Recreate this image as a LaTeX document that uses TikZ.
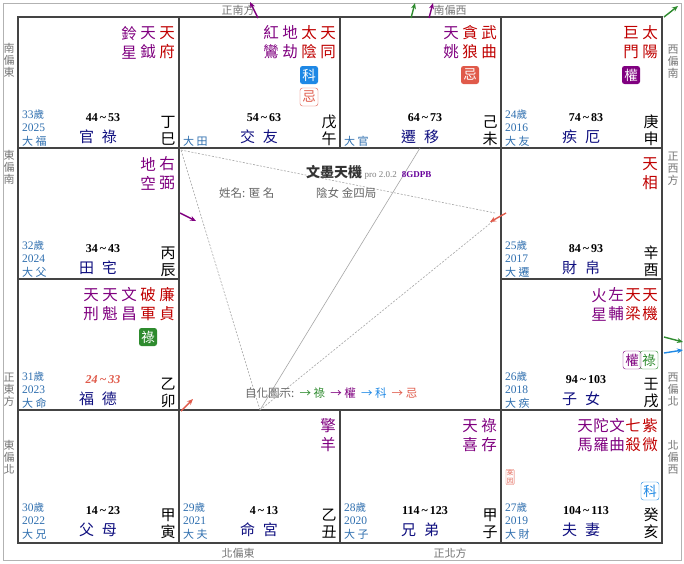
\documentclass[tikz,border=0pt]{standalone}
\usepackage{fontspec}
\setmainfont{Liberation Serif}
\newfontfamily\cjk{Noto Sans CJK TC}
\usetikzlibrary{arrows.meta}
\definecolor{mred}{HTML}{C00000}
\definecolor{mpur}{HTML}{800080}
\definecolor{agec}{HTML}{2F6FAF}
\definecolor{navy}{HTML}{101080}
\definecolor{gridc}{HTML}{444444}
\definecolor{sideg}{HTML}{777777}
\definecolor{bgreen}{HTML}{2E8B2E}
\definecolor{bblue}{HTML}{1E88E5}
\definecolor{bred}{HTML}{E05A4A}
\tikzset{
  stcol/.style={inner sep=0,align=center,font=\cjk\fontsize{15.5}{19}\selectfont},
  agetx/.style={inner sep=0,anchor=west,text=agec,font=\fontsize{11.5}{12}\selectfont},
  rng/.style={inner sep=0,font=\bfseries\fontsize{12}{13}\selectfont},
  pal/.style={inner sep=0,text=navy,font=\cjk\fontsize{15}{16}\selectfont},
  gz/.style={inner sep=0,font=\cjk\fontsize{15}{16}\selectfont},
  badge/.style={rounded corners=2.5pt,minimum size=18pt,inner sep=0,text=white,font=\cjk\fontsize{13.5}{14}\selectfont},
  obadge/.style={draw,rounded corners=2.5pt,minimum size=18pt,inner sep=0,font=\cjk\fontsize{13.5}{14}\selectfont},
  side/.style={inner sep=0,text=sideg,align=center,font=\cjk\fontsize{11}{12}\selectfont},
  arr/.style={-{Stealth[length=6pt,width=5pt]},line width=1.4pt},
  cline/.style={draw=gray!70,line width=0.6pt},
  dl/.style={cline,dashed,dash pattern=on 2pt off 1.5pt},
}
\newcommand\stc[3]{\node[stcol,text=#3] at (#1,25.5) {#2};}
\newcommand\bottom[7]{%
  \node[agetx] at (4,98) {#1};
  \node[agetx] at (4,111) {#2};
  \node[agetx,font=\cjk\fontsize{11}{12}\selectfont] at (4,124) {#3};
  \node[rng] at (85,101) {#4};
  \node[pal] at (80,120) {#5};
  \node[gz] at (150,105) {#6};
  \node[gz] at (150,122) {#7};}
\newcommand\sui{{\cjk\fontsize{10.5}{11}\selectfont 歲}}
\newcommand\tl{\,\textasciitilde\,}
\newcommand\pg{\hspace{8pt}}
\begin{document}
\begin{tikzpicture}[x=1pt,y=-1pt]
\useasboundingbox (0,0) rectangle (684,563);
\fill[white] (0,0) rectangle (684,563);
\draw[gray!60,line width=1pt] (3,3) rectangle (681,560);
% grid
\draw[gridc,line width=1.8pt] (18,17) rectangle (662,543);
\foreach \x in {179,340,501} {\draw[gridc,line width=1.8pt] (\x,17) -- (\x,148); \draw[gridc,line width=1.8pt] (\x,410) -- (\x,543);}
\foreach \y in {148,410} {\draw[gridc,line width=1.8pt] (18,\y) -- (662,\y);}
\draw[gridc,line width=1.8pt] (179,148) -- (179,410) (501,148) -- (501,410);
\draw[gridc,line width=1.8pt] (18,279) -- (179,279) (501,279) -- (662,279);
% center lines
\coordinate (A) at (260,410);
\coordinate (TL) at (181,150);
\coordinate (T) at (420,148);
\coordinate (R1) at (495,213);
\coordinate (R2) at (492,222);
\draw[dl] (A) -- (TL);
\draw[cline] (A) -- (T);
\draw[dl] (A) -- (R2);
\draw[dl] (TL) -- (R1);
% side labels
\node[side] (s1) at (238,10) {正南方};
\node[side] (s2) at (450,10) {南偏西};
\node[side] (s3) at (238,553) {北偏東};
\node[side] (s4) at (450,553) {正北方};
\node[side] (s5) at (9,60) {南\\偏\\東};
\node[side] (s6) at (9,167) {東\\偏\\南};
\node[side] (s7) at (9,390) {正\\東\\方};
\node[side] (s8) at (9,457) {東\\偏\\北};
\node[side] (s9) at (673,62) {西\\偏\\南};
\node[side] (s10) at (673,169) {正\\西\\方};
\node[side] (s11) at (673,390) {西\\偏\\北};
\node[side] (s12) at (673,457) {北\\偏\\西};
% cells
\begin{scope}[shift={(18,17)}]
\stc{149}{天\\府}{mred}\stc{130}{天\\鉞}{mpur}\stc{111}{鈴\\星}{mpur}
\bottom{33\sui}{2025}{大 福}{44\tl53}{官\pg 祿}{丁}{巳}
\end{scope}
\begin{scope}[shift={(179,17)}]
\stc{149}{天\\同}{mred}\stc{130}{太\\陰}{mred}\stc{111}{地\\劫}{mpur}\stc{92}{紅\\鸞}{mpur}
\node[badge,fill=bblue] at (130,58) {科};
\node[obadge,draw=bred,text=bred] at (130,80) {忌};
\bottom{}{}{大 田}{54\tl63}{交\pg 友}{戊}{午}
\end{scope}
\begin{scope}[shift={(340,17)}]
\stc{149}{武\\曲}{mred}\stc{130}{貪\\狼}{mred}\stc{111}{天\\姚}{mpur}
\node[badge,fill=bred] at (130,58) {忌};
\bottom{}{}{大 官}{64\tl73}{遷\pg 移}{己}{未}
\end{scope}
\begin{scope}[shift={(501,17)}]
\stc{149}{太\\陽}{mred}\stc{130}{巨\\門}{mred}
\node[badge,fill=mpur] at (130,58) {權};
\bottom{24\sui}{2016}{大 友}{74\tl83}{疾\pg 厄}{庚}{申}
\end{scope}
\begin{scope}[shift={(18,148)}]
\stc{149}{右\\弼}{mpur}\stc{130}{地\\空}{mpur}
\bottom{32\sui}{2024}{大 父}{34\tl43}{田\pg 宅}{丙}{辰}
\end{scope}
\begin{scope}[shift={(501,148)}]
\stc{149}{天\\相}{mred}
\bottom{25\sui}{2017}{大 遷}{84\tl93}{財\pg 帛}{辛}{酉}
\end{scope}
\begin{scope}[shift={(18,279)}]
\stc{149}{廉\\貞}{mred}\stc{130}{破\\軍}{mred}\stc{111}{文\\昌}{mpur}\stc{92}{天\\魁}{mpur}\stc{73}{天\\刑}{mpur}
\node[badge,fill=bgreen] at (130,58) {祿};
\bottom{31\sui}{2023}{大 命}{\textcolor{bred}{\itshape 24\tl33}}{福\pg 德}{乙}{卯}
\end{scope}
\begin{scope}[shift={(501,279)}]
\stc{149}{天\\機}{mred}\stc{132}{天\\梁}{mred}\stc{115}{左\\輔}{mpur}\stc{98}{火\\星}{mpur}
\node[obadge,draw=mpur,text=mpur] at (131,81) {權};
\node[obadge,draw=bgreen,text=bgreen] at (148,81) {祿};
\bottom{26\sui}{2018}{大 疾}{94\tl103}{子\pg 女}{壬}{戌}
\end{scope}
\begin{scope}[shift={(18,410)}]
\bottom{30\sui}{2022}{大 兄}{14\tl23}{父\pg 母}{甲}{寅}
\end{scope}
\begin{scope}[shift={(179,410)}]
\stc{149}{擎\\羊}{mpur}
\bottom{29\sui}{2021}{大 夫}{4\tl13}{命\pg 宮}{乙}{丑}
\end{scope}
\begin{scope}[shift={(340,410)}]
\stc{149}{祿\\存}{mpur}\stc{130}{天\\喜}{mpur}
\bottom{28\sui}{2020}{大 子}{114\tl123}{兄\pg 弟}{甲}{子}
\end{scope}
\begin{scope}[shift={(501,410)}]
\stc{149}{紫\\微}{mred}\stc{132}{七\\殺}{mred}\stc{116}{文\\曲}{mpur}\stc{100}{陀\\羅}{mpur}\stc{84}{天\\馬}{mpur}
\node[obadge,draw=bblue,text=bblue] at (149,81) {科};
\node[draw=bred,text=bred,rounded corners=1pt,inner sep=0.8pt,align=center,font=\cjk\fontsize{6.5}{7.5}\selectfont] at (9,67) {來\\因};
\bottom{27\sui}{2019}{大 財}{104\tl113}{夫\pg 妻}{癸}{亥}
\end{scope}
% center text
\node[inner sep=0,anchor=west] (title) at (306,172) {{\cjk\bfseries\fontsize{14}{15}\selectfont\color{black!80} 文墨天機}\ {\color{gray}\fontsize{9}{10}\selectfont pro 2.0.2}\ \ {\color{mpur!80!blue}\bfseries\fontsize{9}{10}\selectfont 8GDPB}};
\node[inner sep=0,anchor=west,text=gray!80!black,font=\cjk\fontsize{11.5}{12}\selectfont] (name) at (219,193) {姓名: 匿 名};
\node[inner sep=0,anchor=west,text=gray!80!black,font=\cjk\fontsize{11.5}{12}\selectfont] (ju) at (316,193) {陰女 金四局};
\node[inner sep=0,anchor=west,font=\cjk\fontsize{11.5}{12}\selectfont] (leg) at (245,393) {\textcolor{gray!80!black}{自化圖示:}\ \ \textcolor{bgreen}{→ 祿}\ \ \textcolor{mpur}{→ 權}\ \ \textcolor{bblue}{→ 科}\ \ \textcolor{bred}{→ 忌}};
% arrows
\coordinate (a1s) at (258,18); \coordinate (a1e) at (250,2);
\draw[arr,mpur] (a1s) -- (a1e);
\coordinate (a2s) at (411,18); \coordinate (a2e) at (415,3);
\draw[arr,bgreen] (a2s) -- (a2e);
\coordinate (a3s) at (429,18); \coordinate (a3e) at (433,3);
\draw[arr,mpur] (a3s) -- (a3e);
\coordinate (a4s) at (664,17); \coordinate (a4e) at (678,6);
\draw[arr,bgreen] (a4s) -- (a4e);
\coordinate (a5s) at (180,213); \coordinate (a5e) at (196,221);
\draw[arr,mpur] (a5s) -- (a5e);
\coordinate (a6s) at (506,213); \coordinate (a6e) at (490,222);
\draw[arr,bred] (a6s) -- (a6e);
\coordinate (a7s) at (181,411); \coordinate (a7e) at (193,399);
\draw[arr,bred] (a7s) -- (a7e);
\coordinate (a8s) at (664,337); \coordinate (a8e) at (683,342);
\draw[arr,bgreen] (a8s) -- (a8e);
\coordinate (a9s) at (664,353); \coordinate (a9e) at (683,350);
\draw[arr,bblue] (a9s) -- (a9e);
\end{tikzpicture}
\end{document}
